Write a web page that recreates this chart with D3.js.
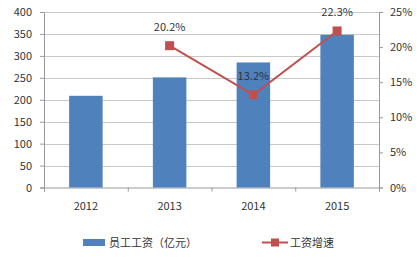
<!DOCTYPE html>
<html lang="zh">
<head>
<meta charset="UTF-8">
<title>员工工资</title>
<script src="https://d3js.org/d3.v7.min.js"></script>
<style>
  body { margin: 0; background: #fff; }
  text { font-family: "Noto Sans CJK SC", "DejaVu Sans", sans-serif; fill: #333; }
</style>
</head>
<body>
<div id="viz"></div>
<script>
var years = ["2012", "2013", "2014", "2015"];
var wages = [209, 251, 285, 348];            // 员工工资（亿元）
var growthYears = ["2013", "2014", "2015"];
var growth = [0.202, 0.132, 0.223];          // 工资增速
var leftTicks = [0, 50, 100, 150, 200, 250, 300, 350, 400];
var rightTicks = [0, 0.05, 0.10, 0.15, 0.20, 0.25];

var w = 419, h = 258;
// plot box (don't use "top" - clashes with window.top)
var plotL = 44, plotR = 379, plotT = 12, plotB = 187.5;

var svg = d3.select("#viz").append("svg")
    .attr("width", w)
    .attr("height", h);

var x = d3.scaleBand().domain(years).range([plotL, plotR]).paddingInner(0.6).paddingOuter(0.3);
var y = d3.scaleLinear().domain([0, 400]).range([plotB, plotT]);
var y2 = d3.scaleLinear().domain([0, 0.25]).range([plotB, plotT]);

// gridlines
svg.append("g").selectAll("line")
    .data(leftTicks.slice(1))
    .enter().append("line")
    .attr("x1", plotL).attr("x2", plotR)
    .attr("y1", function(d){ return Math.round(y(d)) + 0.5; })
    .attr("y2", function(d){ return Math.round(y(d)) + 0.5; })
    .attr("stroke", "#c8c8c8")
    .attr("stroke-width", 1);

// left axis
var ga = svg.append("g")
    .attr("transform", "translate(" + plotL + ",0)")
    .call(d3.axisLeft(y).tickValues(leftTicks).tickSize(4).tickPadding(8));
// right axis
var gb = svg.append("g")
    .attr("transform", "translate(" + plotR + ",0)")
    .call(d3.axisRight(y2).tickValues(rightTicks).tickSize(4).tickPadding(7).tickFormat(d3.format(".0%")));
// bottom axis (ticks between categories)
var xb = d3.scaleLinear().domain([0, 4]).range([plotL, plotR]);
var gc = svg.append("g")
    .attr("transform", "translate(0," + plotB + ")")
    .call(d3.axisBottom(xb).ticks(4).tickSize(4).tickFormat(""));

[ga, gb, gc].forEach(function(g){
    g.selectAll("path").attr("stroke", "#999");
    g.selectAll("line").attr("stroke", "#999");
    g.selectAll("text").style("font-size", "11px").attr("fill", "#333");
});

// category labels
svg.append("g").selectAll("text")
    .data(years)
    .enter().append("text")
    .attr("x", function(d){ return x(d) + x.bandwidth() / 2; })
    .attr("y", 210)
    .attr("text-anchor", "middle")
    .style("font-size", "11px")
    .text(function(d){ return d; });

// bars
svg.append("g").selectAll("rect")
    .data(wages)
    .enter().append("rect")
    .attr("x", function(d, i){ return x(years[i]); })
    .attr("y", function(d){ return y(d); })
    .attr("width", x.bandwidth())
    .attr("height", function(d){ return plotB - y(d); })
    .attr("fill", "#4f81bd");

// growth line
var cx = function(d, i){ return x(growthYears[i]) + x.bandwidth() / 2; };
svg.append("path")
    .datum(growth)
    .attr("d", d3.line().x(cx).y(function(d){ return y2(d); }))
    .attr("fill", "none")
    .attr("stroke", "#c0504d")
    .attr("stroke-width", 2);

svg.append("g").selectAll("rect")
    .data(growth)
    .enter().append("rect")
    .attr("x", function(d, i){ return cx(d, i) - 4.5; })
    .attr("y", function(d){ return y2(d) - 4.5; })
    .attr("width", 9).attr("height", 9)
    .attr("fill", "#c0504d");

svg.append("g").selectAll("text")
    .data(growth)
    .enter().append("text")
    .attr("x", cx)
    .attr("y", function(d){ return y2(d) - 15; })
    .attr("text-anchor", "middle")
    .style("font-size", "11px")
    .text(function(d){ return (d * 100).toFixed(1) + "%"; });

// legend
var lg = svg.append("g");
lg.append("rect").attr("x", 83).attr("y", 239).attr("width", 22).attr("height", 7).attr("fill", "#4f81bd");
lg.append("text").attr("x", 109).attr("y", 247).style("font-size", "11px").text("员工工资（亿元）");
lg.append("line").attr("x1", 262).attr("x2", 288).attr("y1", 242.5).attr("y2", 242.5)
    .attr("stroke", "#c0504d").attr("stroke-width", 2);
lg.append("rect").attr("x", 271).attr("y", 238.5).attr("width", 8).attr("height", 8).attr("fill", "#c0504d");
lg.append("text").attr("x", 290).attr("y", 247).style("font-size", "11px").text("工资增速");
</script>
</body>
</html>
